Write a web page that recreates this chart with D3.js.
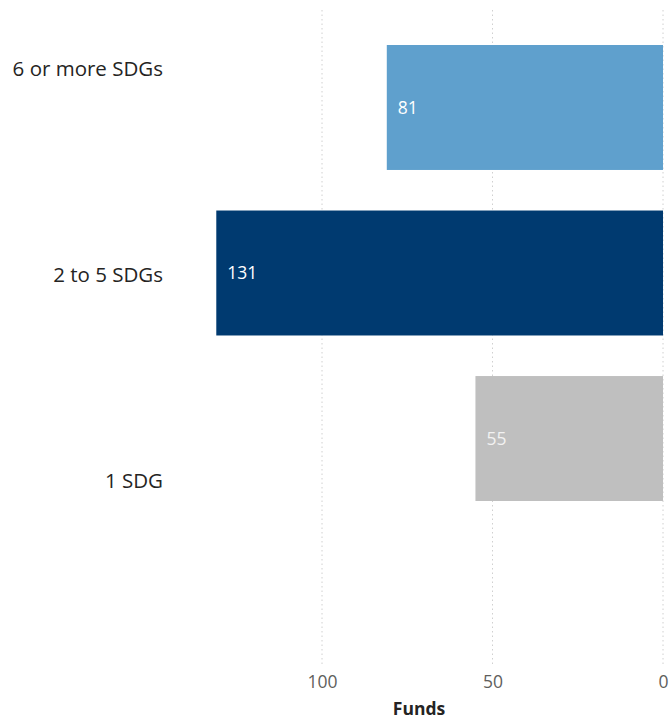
<!DOCTYPE html>
<html>
<head>
<meta charset="utf-8">
<script src="https://cdn.jsdelivr.net/npm/d3@7"></script>
<style>
  html, body { margin: 0; padding: 0; background: #fff; }
  svg { display: block; font-family: "Open Sans", "Noto Sans", sans-serif; }
</style>
</head>
<body>
<svg id="chart" width="670" height="720"></svg>
<script>
// Number of funds by count of SDGs targeted
const categories = ["6 or more SDGs", "2 to 5 SDGs", "1 SDG"];
const funds = [81, 131, 55];
const barColors = ["#5fa0cd", "#003a70", "#bfbfbf"];
const labelColors = ["#ffffff", "#ffffff", "#f2f2f2"];
const tickValues = [100, 50, 0];

const svg = d3.select("#chart");

// Reversed x axis: zero at the right edge, bars grow leftward
const x = d3.scaleLinear().domain([0, 50]).range([663, 492.5]);

const y = d3.scaleBand()
  .domain(categories)
  .range([45, 501])
  .paddingInner(0.245)
  .paddingOuter(0);

// Category labels on their own spread
const yLabel = d3.scalePoint().domain(categories).range([69, 481]);

// Vertical dotted gridlines
svg.append("g")
  .selectAll("line")
  .data(tickValues)
  .join("line")
  .attr("x1", d => x(d)).attr("x2", d => x(d))
  .attr("y1", 10).attr("y2", 664)
  .attr("stroke", "#d0d0d0")
  .attr("stroke-width", 1)
  .attr("stroke-dasharray", "1.5,3");

const rows = categories.map((c, i) => ({ c, v: funds[i], fill: barColors[i], lc: labelColors[i] }));

// Bars
svg.append("g")
  .selectAll("rect")
  .data(rows)
  .join("rect")
  .attr("x", d => x(d.v))
  .attr("y", d => y(d.c))
  .attr("width", d => x(0) - x(d.v))
  .attr("height", y.bandwidth())
  .attr("fill", d => d.fill);

// Value labels inside the bars
svg.append("g")
  .selectAll("text")
  .data(rows)
  .join("text")
  .attr("x", d => x(d.v) + 11)
  .attr("y", d => y(d.c) + y.bandwidth() / 2)
  .attr("dy", "0.36em")
  .attr("fill", d => d.lc)
  .attr("font-size", 17.5)
  .text(d => d.v);

// Category labels
svg.append("g")
  .selectAll("text")
  .data(categories)
  .join("text")
  .attr("x", 163)
  .attr("y", d => yLabel(d))
  .attr("dy", "0.36em")
  .attr("text-anchor", "end")
  .attr("fill", "#252423")
  .attr("font-size", 20.5)
  .text(d => d);

// Bottom axis tick labels
const axis = svg.append("g")
  .attr("transform", "translate(0,676)")
  .call(d3.axisBottom(x).tickValues(tickValues).tickSize(0).tickPadding(0).tickFormat(d3.format("d")));
axis.select(".domain").remove();
axis.selectAll("text")
  .attr("font-family", "\"Open Sans\", \"Noto Sans\", sans-serif")
  .attr("font-size", 17.5)
  .attr("fill", "#605e5c");

// Axis title
svg.append("text")
  .attr("x", 419)
  .attr("y", 715)
  .attr("text-anchor", "middle")
  .attr("font-size", 17.5)
  .attr("font-weight", "bold")
  .attr("fill", "#252423")
  .text("Funds");
</script>
</body>
</html>
